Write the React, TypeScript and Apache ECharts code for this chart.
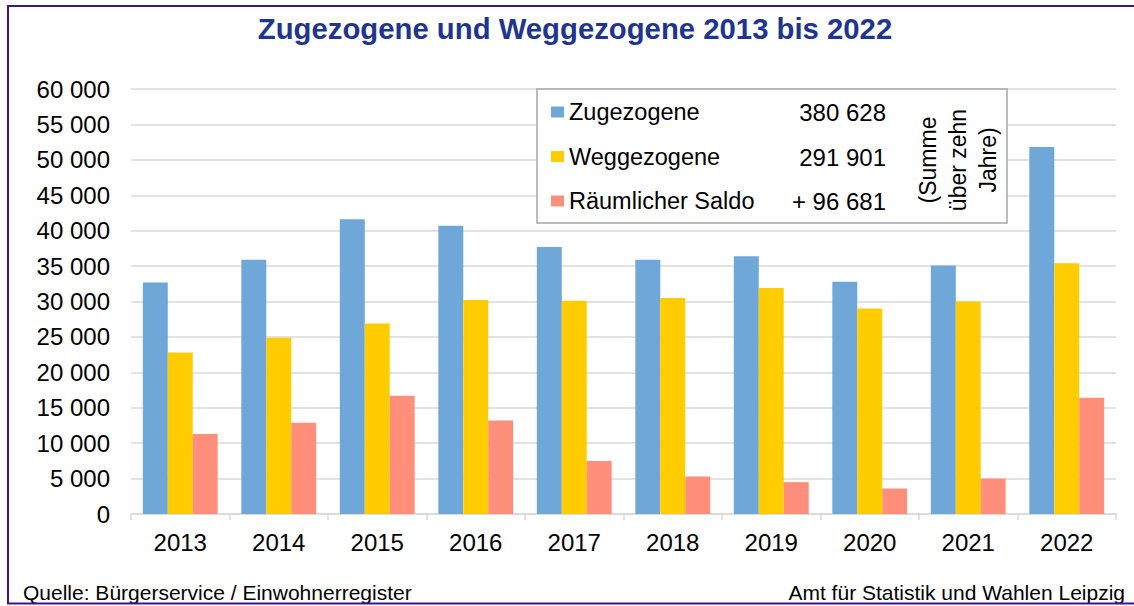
import React, { useEffect, useRef } from "react";
import * as echarts from "echarts";

const years = ["2013", "2014", "2015", "2016", "2017", "2018", "2019", "2020", "2021", "2022"];
const zugezogene = [32700, 35900, 41600, 40700, 37700, 35900, 36400, 32800, 35100, 51800];
const weggezogene = [22800, 24900, 26900, 30200, 30100, 30500, 31900, 29000, 30000, 35400];
const saldo = [11300, 12900, 16700, 13200, 7500, 5300, 4500, 3600, 5000, 16400];
const seriesNames = ["Zugezogene", "Weggezogene", "Räumlicher Saldo"];
const sumLabels = ["380 628", "291 901", "+ 96 681"];
const colors = ["#6fa7d9", "#ffcc00", "#ff8f7a"];

const FONT = "'Liberation Sans', Arial, sans-serif";

const fmt = (v: number) => String(v).replace(/\B(?=(\d{3})+(?!\d))/g, " ");

export default function App() {
  const ref = useRef<HTMLDivElement>(null);
  useEffect(() => {
    if (!ref.current) return;
    const chart = echarts.init(ref.current, null, { renderer: "svg" });
    const rowY = [112, 157.5, 201.5];
    chart.setOption({
      animation: false,
      backgroundColor: "#ffffff",
      textStyle: { fontFamily: FONT },
      grid: { left: 131, right: 18, top: 89, bottom: 92, containLabel: false },
      legend: {
        orient: "vertical",
        left: 546,
        top: 94,
        itemWidth: 13,
        itemHeight: 11,
        itemGap: 18.5,
        icon: "rect",
        selectedMode: false,
        z: 10,
        data: seriesNames,
        textStyle: { fontFamily: FONT, fontSize: 23.5, color: "#000", lineHeight: 26 },
      },
      xAxis: {
        type: "category",
        data: years,
        axisLine: { lineStyle: { color: "#d9d9d9", width: 1.5 } },
        axisTick: { show: true, length: 6, lineStyle: { color: "#d9d9d9", width: 1.5 } },
        axisLabel: { fontFamily: FONT, fontSize: 24, color: "#000", margin: 16 },
      },
      yAxis: {
        type: "value",
        min: 0,
        max: 60000,
        interval: 5000,
        axisLine: { show: false },
        axisTick: { show: false },
        splitLine: { lineStyle: { color: "#d9d9d9", width: 1.5 } },
        axisLabel: { fontFamily: FONT, fontSize: 24, color: "#000", margin: 21, formatter: (v: number) => fmt(v) },
      },
      series: [zugezogene, weggezogene, saldo].map((d, i) => ({
        name: seriesNames[i],
        type: "bar",
        data: d,
        barGap: "0%",
        barCategoryGap: "24%",
        itemStyle: { color: colors[i] },
      })),
      graphic: [
        {
          type: "text",
          x: 575,
          y: 28,
          style: {
            text: "Zugezogene und Weggezogene 2013 bis 2022",
            align: "center",
            verticalAlign: "middle",
            fontFamily: FONT,
            fontSize: 29.3,
            fontWeight: "bold",
            fill: "#1f3590",
          },
        },
        {
          type: "rect",
          z: 5,
          shape: { x: 537, y: 89, width: 470, height: 134 },
          style: { fill: "#ffffff", stroke: "#a6a6a6", lineWidth: 1.5 },
        },
        ...sumLabels.map((t, i) => ({
          type: "text",
          z: 6,
          x: 886,
          y: rowY[i],
          style: {
            text: t,
            align: "right",
            verticalAlign: "middle",
            fontFamily: FONT,
            fontSize: 24,
            fill: "#000",
          },
        })),
        {
          type: "text",
          z: 6,
          x: 958,
          y: 160,
          rotation: Math.PI / 2,
          style: {
            text: "(Summe\nüber zehn\nJahre)",
            align: "center",
            verticalAlign: "middle",
            fontFamily: FONT,
            fontSize: 23,
            lineHeight: 30,
            fill: "#000",
          },
        },
        {
          type: "text",
          x: 23,
          y: 592,
          style: {
            text: "Quelle: Bürgerservice / Einwohnerregister",
            align: "left",
            verticalAlign: "middle",
            fontFamily: FONT,
            fontSize: 21,
            fill: "#000",
          },
        },
        {
          type: "text",
          x: 1125,
          y: 592,
          style: {
            text: "Amt für Statistik und Wahlen Leipzig",
            align: "right",
            verticalAlign: "middle",
            fontFamily: FONT,
            fontSize: 21,
            fill: "#000",
          },
        },
        {
          type: "rect",
          z: 20,
          shape: { x: 8, y: 6, width: 1140, height: 597.5 },
          style: { fill: "none", stroke: "#3a1590", lineWidth: 2 },
        },
      ],
    });
    return () => chart.dispose();
  }, []);
  return (
    <div
      ref={ref}
      style={{ position: "fixed", left: 0, top: 0, width: 1134, height: 606 }}
    />
  );
}
